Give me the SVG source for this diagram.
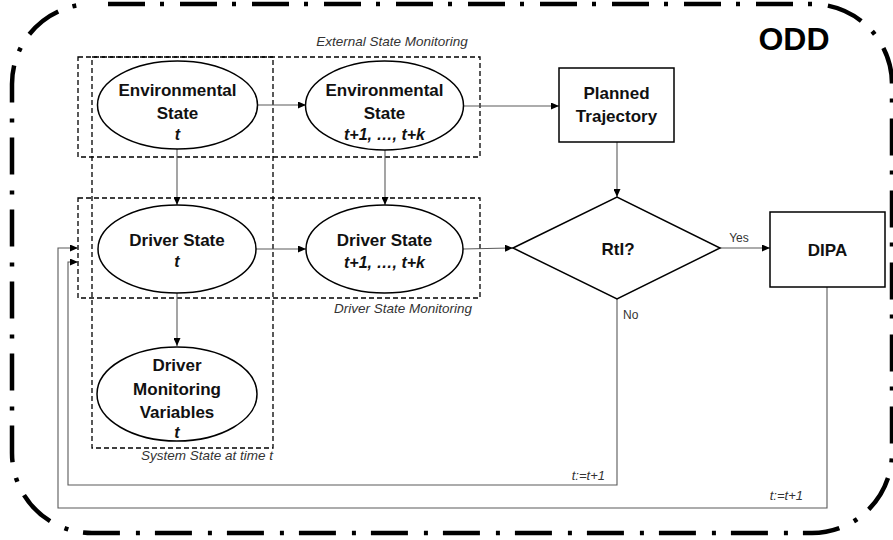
<svg xmlns="http://www.w3.org/2000/svg" width="893" height="540" viewBox="0 0 893 540">
<style>
.odd{fill:none;stroke:#000;stroke-width:4.5;stroke-dasharray:37 15 4 16;stroke-dashoffset:56}
.grp{fill:none;stroke:#000;stroke-width:1.3;stroke-dasharray:5 3}
.node{fill:#fff;stroke:#000;stroke-width:1.5}
.b{font-family:"Liberation Sans",Arial,sans-serif;font-weight:bold;font-size:17px;fill:#111;text-anchor:middle}
.bi{font-family:"Liberation Sans",Arial,sans-serif;font-weight:bold;font-style:italic;font-size:16px;fill:#111;text-anchor:middle}
.gl{font-family:"Liberation Sans",Arial,sans-serif;font-style:italic;font-size:13.5px;fill:#333}
.lbl{font-family:"Liberation Sans",Arial,sans-serif;font-size:12px;fill:#333}
.lbi{font-family:"Liberation Sans",Arial,sans-serif;font-style:italic;font-size:13px;fill:#333}
.c{fill:none;stroke:#5a5a5a;stroke-width:1.1}
</style>
<defs>
<marker id="ah" markerWidth="8" markerHeight="7" refX="8" refY="3.5" orient="auto" markerUnits="userSpaceOnUse">
<path d="M0,0 L8,3.5 L0,7 z" fill="#000"/>
</marker>
</defs>
<rect width="893" height="540" fill="#fff"/>
<g id="odd">
<path class="odd" d="M92,4 L812,4 A80,80 0 0 1 892,84 L892,453 A80,80 0 0 1 812,533 L92,533 A80,80 0 0 1 12,453 L12,84 A80,80 0 0 1 92,4 Z"/>
<text x="794" y="50" font-family="Liberation Sans,Arial,sans-serif" font-weight="bold" font-size="32" text-anchor="middle" fill="#000">ODD</text>
</g>
<g id="groups">
<rect class="grp" x="78" y="57" width="402" height="100"/>
<rect class="grp" x="92" y="57" width="181" height="391"/>
<rect class="grp" x="78" y="198" width="402" height="100"/>
<text class="gl" x="392" y="46" text-anchor="middle">External State Monitoring</text>
<text class="gl" x="472" y="313" text-anchor="end">Driver State Monitoring</text>
<text class="gl" x="273" y="460" text-anchor="end">System State at time t</text>
</g>
<g id="connectors">
<line class="c" x1="257" y1="105" x2="306" y2="105" marker-end="url(#ah)"/>
<line class="c" x1="463" y1="106" x2="559" y2="106" marker-end="url(#ah)"/>
<line class="c" x1="617" y1="142" x2="617" y2="197" marker-end="url(#ah)"/>
<line class="c" x1="177" y1="149" x2="177" y2="205" marker-end="url(#ah)"/>
<line class="c" x1="385" y1="150" x2="385" y2="205" marker-end="url(#ah)"/>
<line class="c" x1="256" y1="249" x2="306" y2="249" marker-end="url(#ah)"/>
<line class="c" x1="463" y1="249" x2="513" y2="248" marker-end="url(#ah)"/>
<line class="c" x1="720" y1="248" x2="770" y2="248" marker-end="url(#ah)"/>
<line class="c" x1="177" y1="293" x2="177" y2="346" marker-end="url(#ah)"/>
<polyline class="c" points="617,299 617,485 68,485 68,262 78,262" marker-end="url(#ah)"/>
<polyline class="c" points="827,287 827,508 58,508 58,248 78,248" marker-end="url(#ah)"/>
<text class="lbl" x="739" y="242" text-anchor="middle">Yes</text>
<text class="lbl" x="623" y="319">No</text>
<text class="lbi" x="605" y="480" text-anchor="end">t:=t+1</text>
<text class="lbi" x="803" y="500" text-anchor="end">t:=t+1</text>
</g>
<g id="env-t">
<ellipse class="node" cx="177.5" cy="105" rx="80" ry="44"/>
<text class="b" x="177.5" y="96">Environmental</text>
<text class="b" x="177.5" y="119">State</text>
<text class="bi" x="177.5" y="140">t</text>
</g>
<g id="env-tk">
<ellipse class="node" cx="384.5" cy="105.5" rx="79" ry="44.5"/>
<text class="b" x="384.5" y="96">Environmental</text>
<text class="b" x="384.5" y="119">State</text>
<text class="bi" x="384.5" y="140">t+1, …, t+k</text>
</g>
<g id="planned">
<rect class="node" x="559" y="68" width="115" height="74"/>
<text class="b" x="616.5" y="99">Planned</text>
<text class="b" x="616.5" y="122">Trajectory</text>
</g>
<g id="driver-t">
<ellipse class="node" cx="177" cy="249" rx="79" ry="44"/>
<text class="b" x="177" y="246">Driver State</text>
<text class="bi" x="177" y="267">t</text>
</g>
<g id="driver-tk">
<ellipse class="node" cx="384.5" cy="249" rx="78.5" ry="44"/>
<text class="b" x="384.5" y="246">Driver State</text>
<text class="bi" x="384.5" y="268">t+1, …, t+k</text>
</g>
<g id="rti">
<polygon class="node" points="513,248 617,197 720,248 617,299"/>
<text class="b" x="618" y="255">RtI?</text>
</g>
<g id="dipa">
<rect class="node" x="770" y="212" width="115" height="75"/>
<text class="b" x="827.5" y="256">DIPA</text>
</g>
<g id="dmv">
<ellipse class="node" cx="177" cy="394" rx="80" ry="47"/>
<text class="b" x="177" y="371">Driver</text>
<text class="b" x="177" y="395">Monitoring</text>
<text class="b" x="177" y="418">Variables</text>
<text class="bi" x="177" y="438">t</text>
</g>
</svg>
